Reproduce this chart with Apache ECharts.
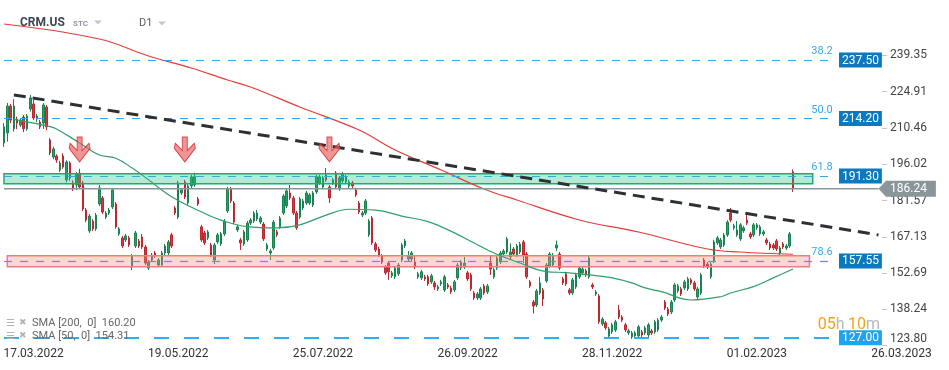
<!DOCTYPE html>
<html><head><meta charset="utf-8">
<script src="https://cdn.jsdelivr.net/npm/echarts@6/dist/echarts.min.js"></script>
<style>html,body{margin:0;padding:0;background:#fff}#c{width:949px;height:370px}</style>
</head><body><div id="c"></div>
<script>
// ---------- DATA ----------
const tradingDays = [
 ['03.2022',[4,7,8,9,10,11,14,15,16,17,18,21,22,23,24,25,28,29,30,31]],
 ['04.2022',[1,4,5,6,7,8,11,12,13,14,18,19,20,21,22,25,26,27,28,29]],
 ['05.2022',[2,3,4,5,6,9,10,11,12,13,16,17,18,19,20,23,24,25,26,27,31]],
 ['06.2022',[1,2,3,6,7,8,9,10,13,14,15,16,17,21,22,23,24,27,28,29,30]],
 ['07.2022',[1,5,6,7,8,11,12,13,14,15,18,19,20,21,22,25,26,27,28,29]],
 ['08.2022',[1,2,3,4,5,8,9,10,11,12,15,16,17,18,19,22,23,24,25,26,29,30,31]],
 ['09.2022',[1,2,6,7,8,9,12,13,14,15,16,19,20,21,22,23,26,27,28,29,30]],
 ['10.2022',[3,4,5,6,7,10,11,12,13,14,17,18,19,20,21,24,25,26,27,28,31]],
 ['11.2022',[1,2,3,4,7,8,9,10,11,14,15,16,17,18,21,22,23,25,28,29,30]],
 ['12.2022',[1,2,5,6,7,8,9,12,13,14,15,16,19,20,21,22,23,27,28,29,30]],
 ['01.2023',[3,4,5,6,9,10,11,12,13,17,18,19,20,23,24,25,26,27,30,31]],
 ['02.2023',[1,2,3,6,7,8,9,10,13,14,15,16]]
];
const futureSlotCount = 42;
const futureLabel = '26.03.2023';
const futureLabelSlot = 32;
const xTickLabels = ['17.03.2022','19.05.2022','25.07.2022','26.09.2022','28.11.2022','01.02.2023','26.03.2023'];

const openV = [204.5,208.5,219.2,210.1,214.0,211.6,214.8,210.1,218.0,220.0,214.0,212.8,212.4,218.8,205.7,198.9,199.3,193.7,199.3,189.8,
196.5,188.6,187.8,192.5,188.6,177.8,169.5,173.4,170.3,180.2,182.6,175.0,176.6,179.0,180.2,168.3,166.7,165.9,166.7,155.1,
163.5,165.5,167.1,163.1,154.7,157.9,160.7,155.9,155.9,160.7,160.7,167.9,178.6,175.0,184.6,189.0,180.6,187.4,187.8,182.2,
171.1,168.7,166.7,163.9,157.9,165.1,164.3,168.3,177.4,186.2,180.6,169.9,165.9,164.3,165.9,172.6,173.4,174.2,173.0,172.2,
162.3,160.7,162.7,169.1,171.1,176.6,179.4,184.6,182.6,176.6,175.0,178.6,180.6,180.6,179.8,185.0,188.6,187.0,191.8,187.0,
188.6,192.5,186.2,189.4,189.0,187.4,188.6,185.8,180.6,175.8,176.6,167.9,174.6,164.3,162.3,159.5,155.1,156.7,151.6,151.2,
152.4,157.9,163.5,158.3,158.3,157.1,151.2,150.8,151.2,151.2,149.2,148.8,146.4,148.4,146.0,148.0,146.8,146.0,150.8,154.7,
155.1,152.8,152.0,144.8,142.8,142.8,147.6,145.2,156.7,151.2,154.7,157.1,160.3,161.1,159.1,162.3,159.9,161.1,165.1,160.3,
149.2,141.2,140.0,144.8,146.0,149.6,155.5,155.9,162.7,160.3,150.4,152.4,146.0,144.8,147.2,151.2,152.8,153.6,151.2,148.0,
144.4,143.6,132.5,132.9,127.7,129.3,130.1,138.0,135.2,132.1,128.9,127.3,127.7,127.7,129.3,128.9,128.1,129.7,129.3,130.1,
134.0,141.2,138.4,137.2,142.0,145.6,146.4,146.8,146.4,150.0,148.8,143.2,144.8,157.9,156.3,151.2,157.5,164.7,163.1,163.9,
167.9,176.6,170.7,167.9,166.3,169.5,173.8,168.3,167.9,170.7,168.3,168.3,165.9,164.3,163.9,165.5,160.7,164.3,162.7,163.5,
193.0];
const closeV = [210.9,219.2,213.6,219.2,212.4,213.6,210.1,215.2,222.4,214.4,215.2,210.9,219.6,210.9,200.5,202.1,197.7,196.5,194.9,196.9,
190.6,186.2,192.1,187.0,178.2,173.8,175.4,170.3,175.8,186.6,177.0,176.6,177.8,185.8,171.1,170.3,163.5,167.5,163.9,159.5,
168.7,163.5,163.1,156.7,157.1,159.9,159.5,157.9,160.7,163.5,165.1,163.5,176.6,188.6,185.8,183.0,187.4,191.0,191.0,180.2,
165.9,164.7,169.1,159.9,163.9,167.9,168.3,173.4,186.2,181.4,173.0,171.1,164.7,169.1,172.6,173.8,176.6,176.6,174.6,166.3,
163.9,161.5,173.0,167.9,174.6,183.4,185.4,182.6,176.6,170.7,182.2,181.4,184.6,183.8,184.6,191.0,191.0,190.6,189.8,182.6,
189.8,187.0,190.6,192.1,191.0,189.0,187.4,183.8,177.0,176.6,181.4,173.4,164.7,161.9,159.9,157.1,152.8,153.2,152.8,154.7,
155.9,163.9,165.5,159.5,160.7,155.1,152.4,153.2,150.4,148.4,151.6,147.2,147.2,149.2,151.2,147.2,145.2,149.2,155.9,157.1,
156.7,150.4,146.4,142.8,144.4,146.4,144.8,147.6,154.3,154.0,158.7,160.7,161.5,166.3,161.1,160.3,163.5,164.3,159.9,151.2,
147.6,139.6,145.6,148.8,142.4,155.9,160.3,159.9,163.9,154.7,148.8,148.4,144.8,150.0,152.0,154.7,154.3,152.0,158.7,147.2,
145.2,133.3,134.4,130.9,130.5,132.1,133.3,135.2,134.0,130.1,129.7,128.9,128.9,131.3,128.1,130.9,132.1,128.9,133.3,134.0,
135.2,138.8,136.4,141.2,148.0,147.6,144.4,149.2,150.4,148.8,146.4,146.4,152.0,155.5,155.1,156.3,165.1,166.7,165.9,167.9,
173.0,173.8,171.5,169.9,171.9,170.7,172.6,167.1,171.9,171.9,171.1,169.1,164.7,162.7,162.7,162.3,162.7,163.1,163.5,168.3,
186.24];
const highV = [212.4,220.4,220.0,222.0,215.0,214.4,215.6,216.0,223.6,221.6,216.0,213.6,220.4,219.6,206.4,203.0,200.0,197.4,200.4,197.6,
197.2,189.6,192.9,194.2,189.4,178.6,176.2,174.2,176.6,187.8,183.4,177.4,178.6,186.6,181.0,171.1,167.5,168.3,167.5,160.3,
169.5,166.3,168.3,163.9,157.9,160.7,161.5,158.7,161.5,164.3,165.9,168.7,179.4,189.4,186.6,189.8,188.2,191.8,192.7,183.0,
171.9,169.5,169.9,164.7,164.7,168.7,169.1,174.2,187.0,187.0,181.4,171.9,166.7,169.9,173.4,174.6,177.4,177.8,175.4,173.0,
164.7,162.3,173.8,169.9,175.4,184.2,186.2,187.8,183.4,177.4,183.0,182.2,185.4,184.6,185.4,191.8,191.8,191.4,194.5,187.8,
190.6,193.3,191.4,193.0,191.8,189.8,189.4,186.6,181.4,177.4,182.2,174.2,175.4,165.1,163.1,160.3,155.9,157.5,153.6,155.5,
156.7,164.7,166.3,161.5,161.5,159.9,153.2,154.0,152.0,152.0,152.4,149.6,148.0,150.0,152.0,148.8,147.6,150.0,156.7,157.9,
159.1,153.6,152.8,145.6,145.2,147.2,148.4,148.4,159.9,154.8,159.5,161.5,162.3,167.1,164.5,163.1,164.3,165.1,165.9,161.1,
150.0,142.0,146.4,151.2,146.8,156.7,161.1,160.7,165.6,161.1,151.2,153.2,146.8,150.8,152.8,155.5,155.1,154.4,159.5,148.8,
146.0,144.4,135.2,133.7,131.3,132.9,134.1,140.0,136.0,132.9,130.5,129.7,129.7,132.1,130.1,131.7,132.9,130.5,134.1,134.8,
136.0,142.0,139.2,142.0,148.8,148.4,147.2,150.0,151.2,150.8,149.6,147.2,152.8,158.7,157.1,157.1,165.9,167.5,166.7,168.7,
173.8,178.6,172.3,173.4,172.6,171.5,175.8,169.1,172.6,172.6,171.9,169.9,166.7,165.1,164.7,166.3,163.5,165.1,164.3,169.1,
194.0];
const lowV = [202.9,205.0,212.4,209.0,210.0,210.8,208.8,209.3,217.0,213.6,212.8,210.0,210.1,209.6,199.6,198.0,196.6,192.9,194.2,188.8,
189.4,185.4,185.8,186.2,177.4,173.0,168.7,169.5,169.5,179.4,176.2,174.2,175.8,178.2,170.3,167.5,162.7,165.1,163.1,153.9,
162.7,162.7,162.3,155.9,153.9,157.1,158.7,155.1,155.1,159.9,159.9,162.7,175.8,174.2,183.8,182.2,179.8,186.6,187.0,179.4,
165.1,163.9,165.9,159.1,156.3,164.3,163.5,167.5,176.6,180.6,172.2,169.1,161.9,163.5,165.1,171.8,172.6,173.4,172.2,165.5,
161.5,157.9,161.9,167.1,170.3,175.8,178.6,181.8,175.8,169.9,174.2,177.8,179.8,179.8,179.0,184.2,187.8,186.2,189.0,180.6,
187.8,186.2,185.4,188.6,188.2,186.6,186.6,183.0,176.2,175.0,175.8,167.1,163.9,161.1,159.1,156.3,152.0,150.0,150.8,150.4,
151.6,157.1,162.7,157.5,157.5,154.3,150.4,150.0,149.6,147.6,148.4,146.0,145.6,147.6,145.2,146.4,144.4,145.2,150.0,153.9,
154.3,149.6,145.6,142.0,142.0,142.0,144.0,144.4,152.0,150.4,153.9,156.3,159.5,160.3,158.3,159.5,159.1,160.3,156.7,150.4,
146.8,136.6,139.2,144.0,139.6,148.8,154.7,155.1,161.5,153.9,148.0,147.6,144.0,144.0,146.4,150.4,152.0,151.2,150.4,146.4,
143.6,132.5,131.7,130.1,126.9,128.5,129.3,134.4,133.2,129.3,128.1,126.5,126.9,126.9,126.5,128.1,127.3,128.1,128.5,129.3,
133.2,138.0,135.6,136.4,141.2,144.8,143.6,146.0,145.6,148.0,145.6,142.4,144.0,154.7,154.3,150.4,156.7,163.9,162.3,163.1,
167.1,173.0,169.9,167.1,165.5,168.7,171.8,166.3,167.1,169.9,167.5,167.5,163.9,161.9,161.9,161.5,159.9,162.3,161.9,162.7,
185.0];

// SMA readings: [candle index, value]
const sma200 = [[0,251.83],[29,245.86],[44,239.10],[57,234.32],[68,229.55],[75,226.76],[90,218.80],[108,209.65],[119,201.69],
 [133,193.73],[146,186.17],[156,181.79],[175,173.84],[193,169.06],[214,162.30],[224,161.10],[240,160.20]];
const sma50 = [[3,213.9],[14,211.0],[16,210.05],[23,204.5],[29,199.7],[34,198.4],[39,194.5],[44,189.8],[51,183.1],[60,177.1],
 [66,173.8],[74,171.2],[83,170.7],[90,171.9],[98,175.8],[105,178.1],[113,177.8],[121,175.4],[129,173.2],[137,168.7],[143,164.7],
 [149,160.7],[157,156.7],[165,153.3],[171,152.9],[178,152.0],[185,150.8],[191,148.8],[195,146.8],[200,145.3],[209,142.0],
 [218,143.3],[221,144.8],[228,147.3],[234,150.8],[240,154.31]];
const smaLegend = ['SMA [200,  0]  160.20', 'SMA [50,  0]  154.31'];

const fibLevels = ['38.2','50.0','61.8','78.6'];
const fibPrices = [237.50, 214.20, 191.30, 157.55];
const baseLevel = 127.00;
const lastPrice = 186.24;
const yTicks = [123.80,138.24,152.69,167.13,181.57,196.02,210.46,224.91,239.35];
const resistanceZone = [188.27, 192.25];
const supportZone = [155.26, 159.64];
const trendLine = [[3,223.6],[266,167.9]];
const signalArrows = [[23,201.9],[55,201.9],[99,201.9]];
const levelEndIndex = 253, zoneEndIndex = 246, priceLineEnd = 266;

// ---------- BUILD ----------
const pad = d => (d < 10 ? '0' : '') + d;
const dates = [];
tradingDays.forEach(([my, days]) => days.forEach(d => dates.push(pad(d) + '.' + my)));
const future = Array.from({length: futureSlotCount}, (_, i) => i === futureLabelSlot ? futureLabel : 'f' + i);
const cats = dates.concat(future);
const ohlc = dates.map((d, i) => [openV[i], closeV[i], lowV[i], highV[i]]);

const Y_MIN = 123.69, Y_MAX = 261.38;
const FONT = 'Roboto, "DejaVu Sans", sans-serif';
const chart = echarts.init(document.getElementById('c'), null, {renderer: 'canvas'});

const fibMark = fibPrices.map((p, k) => [
  {coord: [0, p], lineStyle: {color: '#3aa3e2', width: 1.2, type: [8, 8]},
   label: {show: true, position: 'insideEndTop', formatter: fibLevels[k], color: '#3aa8e8', fontSize: 11, fontFamily: FONT, distance: 3}},
  {coord: [levelEndIndex, p]}
]);
fibMark.push([
  {coord: [0, baseLevel], lineStyle: {color: '#2db0f2', width: 2, type: [15, 15]}, label: {show: false}},
  {coord: [levelEndIndex, baseLevel]}
]);

const arrowPath = 'path://M8,0 L13,0 L13,13 L20,6 L21,11 L10.5,24 L0,11 L1,6 L8,13 Z';

const option = {
  animation: false,
  backgroundColor: '#ffffff',
  grid: {left: 2.36, top: 0, width: 930.36, height: 346, containLabel: false, outerBoundsMode: 'none'},
  xAxis: {
    type: 'category', data: cats, boundaryGap: true,
    axisLine: {show: false}, axisTick: {show: false}, splitLine: {show: false},
    axisLabel: {interval: (i, v) => xTickLabels.indexOf(v) >= 0, color: '#333', fontSize: 12, fontFamily: FONT, margin: 2, hideOverlap: false}
  },
  yAxis: [
    {type: 'value', min: Y_MIN, max: Y_MAX, position: 'right', offset: -50.72,
     axisLine: {show: false}, splitLine: {show: false},
     axisTick: {show: true, customValues: yTicks, length: 5, lineStyle: {color: '#c4c4c4'}},
     axisLabel: {customValues: yTicks, color: '#444', fontSize: 12, fontFamily: FONT, margin: 8,
       formatter: v => Math.abs(v - 123.8) < 0.01 ? '{low|' + v.toFixed(2) + '}' : v.toFixed(2),
       rich: {low: {padding: [0, 0, 13, 0], color: '#444', fontSize: 12, fontFamily: FONT}}}},
    {type: 'value', min: Y_MIN, max: Y_MAX, position: 'right', offset: -97.72,
     axisLine: {show: false}, axisTick: {show: false}, splitLine: {show: false},
     axisLabel: {customValues: fibPrices.concat([baseLevel]), margin: 4,
       formatter: v => (Math.abs(v - baseLevel) < 0.01 ? '{b|' : '{a|') + v.toFixed(2) + '}',
       rich: {a: {backgroundColor: '#0b79bf', color: '#fff', fontSize: 12, fontFamily: FONT, lineHeight: 12, padding: [2, 3, 1, 3]},
              b: {backgroundColor: '#1aa5ee', color: '#fff', fontSize: 12, fontFamily: FONT, lineHeight: 12, padding: [2, 3, 1, 3]}}}},
    {type: 'value', min: Y_MIN, max: Y_MAX, position: 'right', offset: -50.72,
     axisLine: {show: false}, axisTick: {show: false}, splitLine: {show: false},
     axisLabel: {customValues: [lastPrice], margin: 4, formatter: v => '{p|' + v.toFixed(2) + '}',
       rich: {p: {backgroundColor: '#8b969b', color: '#fff', fontSize: 12, fontFamily: FONT, lineHeight: 13, padding: [2, 9, 2, 4]}}}}
  ],
  series: [
    {name: 'CRM.US', type: 'candlestick', data: ohlc, barWidth: 2, z: 2,
     itemStyle: {color: '#29a069', color0: '#e0323c', borderColor: '#1b8052', borderColor0: '#bb2830', borderWidth: 1},
     markArea: {silent: true, z: 3, data: [
       [{coord: [0, resistanceZone[1]], itemStyle: {color: 'rgba(41,192,135,0.35)', borderColor: '#19ad72', borderWidth: 1.5}},
        {coord: [zoneEndIndex, resistanceZone[0]]}],
       [{coord: [1, supportZone[1]], itemStyle: {color: 'rgba(240,141,141,0.35)', borderColor: '#ef7f7f', borderWidth: 1.5}},
        {coord: [zoneEndIndex - 1, supportZone[0]]}]
     ]}},
    {name: 'SMA 200', type: 'line', data: sma200, smooth: 0.4, showSymbol: false, symbol: 'none', z: 4,
     lineStyle: {color: '#e53b37', width: 1.2}},
    {name: 'SMA 50', type: 'line', data: sma50, smooth: 0.4, showSymbol: false, symbol: 'none', z: 4,
     lineStyle: {color: '#2f9f6c', width: 1.2}},
    {name: 'price', type: 'line', data: [[0, lastPrice], [priceLineEnd, lastPrice]], symbol: 'none', z: 4,
     lineStyle: {color: '#8b969b', width: 1.5},
     markPoint: {silent: true, data: [{coord: [priceLineEnd, lastPrice]}], symbol: 'triangle', symbolSize: [17, 8],
       symbolRotate: 90, symbolOffset: [4, 0], itemStyle: {color: '#8b969b'}, label: {show: false}}},
    {name: 'trend', type: 'line', data: trendLine, symbol: 'none', z: 5,
     lineStyle: {color: '#2c3136', width: 3, type: [12, 7]},
     markLine: {silent: true, symbol: 'none', z: 5, label: {show: false}, data: fibMark}},
    {name: 'signals', type: 'scatter', data: signalArrows, symbol: arrowPath, symbolSize: [21, 25], z: 6,
     itemStyle: {color: 'rgba(232,104,104,0.88)', borderColor: '#d12a2a', borderWidth: 1}}
  ],
  graphic: [
    {type: 'text', x: 20, y: 23, style: {text: 'CRM.US', font: 'bold 12px ' + FONT, fill: '#3d4751', verticalAlign: 'middle'}},
    {type: 'text', x: 73, y: 24, style: {text: 'STC', font: 'bold 8px ' + FONT, fill: '#8a96a0', verticalAlign: 'middle'}},
    {type: 'polygon', shape: {points: [[94, 20.5], [102, 20.5], [98, 24.5]]}, style: {fill: '#c3c8cd'}},
    {type: 'text', x: 139, y: 23, style: {text: 'D1', font: '11px ' + FONT, fill: '#56606a', verticalAlign: 'middle'}},
    {type: 'polygon', shape: {points: [[158, 21.5], [166, 21.5], [162, 25.5]]}, style: {fill: '#c3c8cd'}},
    {type: 'text', x: 6, y: 323, z: 10, style: {text: '☰', font: '10px "DejaVu Sans"', fill: '#b4b4b4', verticalAlign: 'middle'}},
    {type: 'text', x: 19, y: 323, z: 10, style: {text: '✖', font: '9px "DejaVu Sans"', fill: '#b4b4b4', verticalAlign: 'middle'}},
    {type: 'text', x: 32, y: 323, z: 10, style: {text: smaLegend[0], font: '11px ' + FONT, fill: '#666', verticalAlign: 'middle'}},
    {type: 'text', x: 6, y: 336, z: 10, style: {text: '☰', font: '10px "DejaVu Sans"', fill: '#b4b4b4', verticalAlign: 'middle'}},
    {type: 'text', x: 19, y: 336, z: 10, style: {text: '✖', font: '9px "DejaVu Sans"', fill: '#b4b4b4', verticalAlign: 'middle'}},
    {type: 'text', x: 32, y: 336, z: 10, style: {text: smaLegend[1], font: '11px ' + FONT, fill: '#666', verticalAlign: 'middle'}},
    {type: 'text', x: 880, y: 325, z: 10, style: {text: '{o|05}{g|h} {o|10}{g|m}', align: 'right', verticalAlign: 'middle',
      rich: {o: {fill: '#f6a11c', fontSize: 16, fontFamily: FONT}, g: {fill: '#b8b8b8', fontSize: 16, fontFamily: FONT}}}}
  ]
};
chart.setOption(option);
</script>
</body></html>
